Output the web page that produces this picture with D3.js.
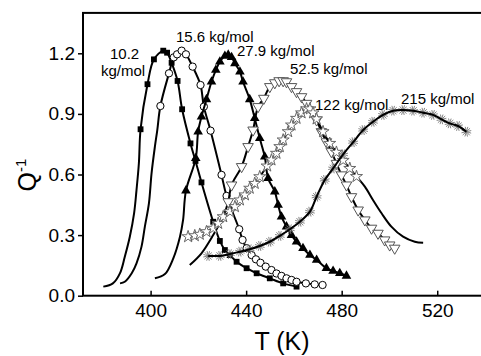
<!DOCTYPE html>
<html>
<head>
<meta charset="utf-8">
<script src="https://cdn.jsdelivr.net/npm/d3@7"></script>
<style>
  body { margin: 0; background: #fff; }
  svg { display: block; font-family: "Liberation Sans", Arial, sans-serif; }
</style>
</head>
<body>
<svg width="481" height="356"></svg>
<script>
const t10 = [380.2,384.2,387.2,389.2,391.3,393.1,394.1,395.1,395.8,398.7,401.4,405.3,406.9,408.8,411.3,413.2,416.7,418.8,421.3,426.2,429.0,431.1,433.2,436.0,440.2,444.4,449.9,455.5,461.1];
const q10 = [0.045,0.061,0.112,0.193,0.292,0.409,0.523,0.657,0.824,1.047,1.170,1.213,1.203,1.153,1.063,0.923,0.754,0.667,0.561,0.366,0.271,0.226,0.201,0.168,0.136,0.111,0.086,0.061,0.045];

const t15 = [387.2,389.2,392.1,394.1,396.2,397.6,399.3,400.4,401.8,402.8,404.1,407.7,409.7,411.1,413.0,414.8,417.6,420.9,422.3,425.1,429.7,431.8,437.1,438.5,440.2,442.3,444.1,446.0,448.2,450.6,452.7,454.8,456.9,459.0,461.1,465.0,468.7,472.0];
const q15 = [0.061,0.069,0.111,0.160,0.243,0.342,0.457,0.606,0.738,0.820,0.939,1.101,1.180,1.195,1.213,1.195,1.134,1.043,0.936,0.817,0.598,0.494,0.329,0.276,0.235,0.201,0.180,0.163,0.144,0.127,0.110,0.098,0.086,0.078,0.069,0.061,0.056,0.053];

const t27 = [401.8,406.0,409.5,412.3,413.6,414.8,418.9,419.9,421.3,423.4,425.5,427.3,429.0,431.1,432.5,433.9,435.3,437.4,438.7,441.5,443.6,445.7,447.8,449.2,452.0,453.4,454.8,456.9,459.0,461.1,463.8,466.7,469.5,473.6,476.4,479.2,482.0];
const q27 = [0.086,0.107,0.185,0.292,0.375,0.520,0.680,0.812,0.886,0.972,1.059,1.117,1.158,1.187,1.192,1.180,1.150,1.109,1.059,0.972,0.878,0.779,0.688,0.581,0.515,0.449,0.391,0.342,0.300,0.267,0.235,0.201,0.177,0.136,0.122,0.111,0.098];

const t52 = [416.4,421.3,426.2,430.4,432.5,433.9,438.1,440.8,442.9,445.0,447.4,449.9,452.0,453.8,455.5,456.9,459.0,461.1,463.2,465.3,469.5,471.5,473.6,475.7,477.8,479.9,482.0,484.1,486.9,489.7,492.5,495.2,498.0,500.1,502.2];
const q52 = [0.152,0.210,0.300,0.391,0.465,0.548,0.639,0.738,0.820,0.936,0.977,1.035,1.054,1.064,1.064,1.059,1.035,1.010,0.985,0.952,0.870,0.812,0.762,0.713,0.655,0.598,0.548,0.490,0.424,0.375,0.334,0.309,0.276,0.251,0.235];

const t122 = [415.7,418.5,420.6,423.4,426.2,428.3,430.4,433.2,435.3,437.4,439.5,441.5,443.6,445.7,448.8,450.6,452.7,454.1,455.5,457.6,459.0,461.1,463.2,465.3,466.7,468.0,469.5,472.2,475.0,477.8,480.6,483.4,486.2,489.7,493.1,496.7,500.8,505.7,510.6,514.1];
const q122 = [0.292,0.297,0.304,0.317,0.334,0.358,0.391,0.416,0.441,0.474,0.499,0.532,0.556,0.589,0.642,0.672,0.705,0.738,0.771,0.812,0.845,0.878,0.905,0.925,0.925,0.905,0.875,0.812,0.754,0.710,0.670,0.630,0.590,0.540,0.474,0.408,0.342,0.292,0.267,0.262];

const t215 = [424.1,429.0,433.2,437.4,441.5,445.7,449.9,454.1,458.3,462.5,466.7,469.5,472.9,476.4,480.6,484.8,489.0,493.1,497.3,501.5,505.7,509.9,514.1,518.2,521.8,525.2,528.7,532.2];
const q215 = [0.197,0.197,0.206,0.218,0.230,0.246,0.267,0.296,0.329,0.366,0.416,0.490,0.573,0.630,0.700,0.760,0.820,0.861,0.895,0.916,0.919,0.916,0.906,0.895,0.873,0.853,0.840,0.812];

// which points carry a marker: [first, last] index
const series = [
  { name: '10.2',  t: t10,  q: q10,  marks: [8, 28],  shape: 'square' },
  { name: '15.6',  t: t15,  q: q15,  marks: [10, 37], shape: 'circle' },
  { name: '27.9',  t: t27,  q: q27,  marks: [5, 36],  shape: 'triangle' },
  { name: '52.5',  t: t52,  q: q52,  marks: [4, 34],  shape: 'down' },
  { name: '122',   t: t122, q: q122, marks: [0, 32],  shape: 'star' },
  { name: '215',   t: t215, q: q215, marks: [0, 27],  shape: 'asterisk' }
];

const xTicks = [400, 440, 480, 520];
const yTicks = [0, 0.3, 0.6, 0.9, 1.2];

const svg = d3.select('svg');
const mLeft = 83, mRight = 485, mTop = 12.9, mBottom = 295.7;

const x = d3.scaleLinear().domain([371.7, 540]).range([mLeft, mRight]);
const y = d3.scaleLinear().domain([0, 1.4]).range([mBottom, mTop]);

const line = d3.line()
  .x(d => x(d[0]))
  .y(d => y(d[1]))
  .curve(d3.curveCatmullRom.alpha(0.5));

// thin many-spoke asterisk
const hairy = {
  draw(ctx, size) {
    const r = Math.sqrt(size) / 2;
    for (let k = 0; k < 6; k++) {
      const a = k * Math.PI / 6 + 0.3;
      ctx.moveTo(-r * Math.cos(a), -r * Math.sin(a));
      ctx.lineTo(r * Math.cos(a), r * Math.sin(a));
    }
  }
};

const styles = {
  square:   { type: d3.symbolSquare,   size: 34, fill: '#000', stroke: 'none', rot: 0, sw: 1, under: false },
  circle:   { type: d3.symbolCircle,   size: 42, fill: '#fff', stroke: '#000', rot: 0, sw: 1, under: false },
  triangle: { type: d3.symbolTriangle, size: 40, fill: '#000', stroke: 'none', rot: 0, sw: 1, under: false },
  down:     { type: d3.symbolTriangle, size: 48, fill: '#fff', stroke: '#555', rot: 180, sw: 1, under: false },
  star:     { type: d3.symbolStar,     size: 45, fill: '#fff', stroke: '#666', rot: 0, sw: 1, under: false },
  asterisk: { type: hairy,             size: 100, fill: 'none', stroke: '#777', rot: 0, sw: 0.9, under: true }
};

series.forEach(s => {
  const pts = s.t.map((t, i) => [t, s.q[i]]);
  const st = styles[s.shape];
  const g = svg.append('g');

  const drawLine = () => g.append('path')
    .attr('d', line(pts))
    .attr('fill', 'none')
    .attr('stroke', '#000')
    .attr('stroke-width', 2);

  if (!st.under) drawLine();

  g.selectAll('path.m')
    .data(pts.slice(s.marks[0], s.marks[1] + 1))
    .enter()
    .append('path')
      .attr('class', 'm')
      .attr('d', d3.symbol().type(st.type).size(st.size))
      .attr('transform', d => 'translate(' + x(d[0]) + ',' + y(d[1]) + ') rotate(' + st.rot + ')')
      .attr('fill', st.fill)
      .attr('stroke', st.stroke)
      .attr('stroke-width', st.sw);

  if (st.under) drawLine();
});

// frame
svg.append('rect')
  .attr('x', mLeft).attr('y', mTop)
  .attr('width', mRight - mLeft).attr('height', mBottom - mTop)
  .attr('fill', 'none')
  .attr('stroke', '#000')
  .attr('stroke-width', 2);

const xAxis = svg.append('g')
  .attr('transform', 'translate(0,' + mBottom + ')')
  .call(d3.axisBottom(x).tickValues(xTicks).tickFormat(d3.format('d'))
    .tickSizeInner(-5).tickSizeOuter(0).tickPadding(8));
xAxis.select('.domain').remove();
xAxis.selectAll('line').attr('stroke-width', 1.5);
xAxis.selectAll('text').attr('font-size', 19).attr('font-family', '"Liberation Sans", Arial, sans-serif').attr('fill', '#000');

const yAxis = svg.append('g')
  .attr('transform', 'translate(' + mLeft + ',0)')
  .call(d3.axisLeft(y).tickValues(yTicks).tickFormat(d3.format('.1f'))
    .tickSizeInner(5).tickSizeOuter(0).tickPadding(3));
yAxis.select('.domain').remove();
yAxis.selectAll('line').attr('stroke-width', 1.5);
yAxis.selectAll('text').attr('font-size', 19).attr('font-family', '"Liberation Sans", Arial, sans-serif').attr('fill', '#000');

// axis titles
svg.append('text')
  .attr('x', 282).attr('y', 350)
  .attr('text-anchor', 'middle')
  .attr('font-size', 25)
  .text('T (K)');

const qt = svg.append('text')
  .attr('transform', 'translate(36,175) rotate(-90)')
  .attr('text-anchor', 'middle')
  .attr('font-size', 25);
qt.append('tspan').text('Q');
qt.append('tspan').attr('font-size', 15).attr('dy', -10).text('-1');

// curve labels
const labels = [
  { text: '10.2', x: 110, y: 59 },
  { text: 'kg/mol', x: 101, y: 76 },
  { text: '15.6 kg/mol', x: 176, y: 42 },
  { text: '27.9 kg/mol', x: 237, y: 56 },
  { text: '52.5 kg/mol', x: 290, y: 74 },
  { text: '122 kg/mol', x: 315, y: 110 },
  { text: '215 kg/mol', x: 401, y: 104 }
];
svg.selectAll('text.lab')
  .data(labels)
  .enter()
  .append('text')
    .attr('class', 'lab')
    .attr('x', d => d.x)
    .attr('y', d => d.y)
    .attr('font-size', 15)
    .text(d => d.text);
</script>
</body>
</html>
